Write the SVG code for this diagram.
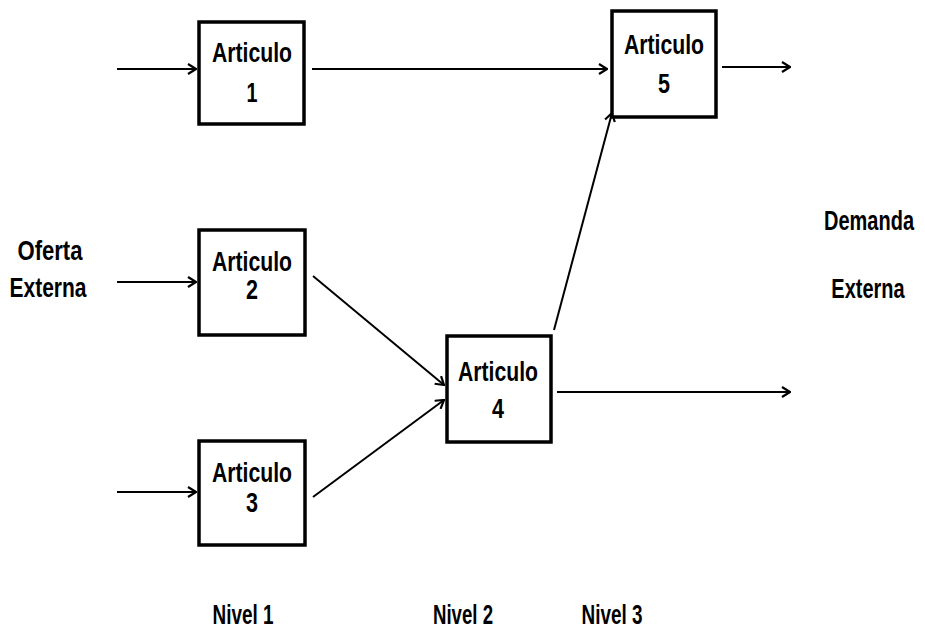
<svg xmlns="http://www.w3.org/2000/svg" width="925" height="633" viewBox="0 0 925 633">
<defs>
<style>
.box{fill:#fff;stroke:#000;stroke-width:3.5}
.ln{fill:none;stroke:#000;stroke-width:2;marker-end:url(#ah)}
.t{font-family:"Liberation Sans",Arial,sans-serif;font-weight:bold;font-size:27px;fill:#000;text-anchor:middle}
.s{font-size:20px}
</style>
<marker id="ah" viewBox="0 0 12 12" refX="11" refY="6" markerWidth="12" markerHeight="12" markerUnits="userSpaceOnUse" orient="auto">
<path d="M3,1 L11,6 L3,11" fill="none" stroke="#000" stroke-width="2.2"/>
</marker>
</defs>
<rect width="925" height="633" fill="#fff"/>
<g id="connectors">
<line class="ln" x1="117" y1="69" x2="196" y2="69"/>
<line class="ln" x1="312" y1="69" x2="607" y2="69"/>
<line class="ln" x1="722" y1="67" x2="790" y2="67"/>
<line class="ln" x1="117" y1="282" x2="196" y2="282"/>
<line class="ln" x1="117" y1="492" x2="196" y2="492"/>
<line class="ln" x1="313" y1="276" x2="444" y2="385"/>
<line class="ln" x1="313" y1="497" x2="444" y2="400"/>
<line class="ln" x1="554" y1="330" x2="612" y2="113"/>
<line class="ln" x1="557" y1="392" x2="790" y2="392"/>
</g>
<g id="n1"><rect class="box" x="199" y="22" width="105" height="102"/>
<text class="t" x="252" y="62" textLength="80" lengthAdjust="spacingAndGlyphs">Articulo</text>
<text class="t" x="252" y="102" textLength="11" lengthAdjust="spacingAndGlyphs">1</text></g>
<g id="n2"><rect class="box" x="199" y="230" width="106" height="105"/>
<text class="t" x="252" y="271" textLength="80" lengthAdjust="spacingAndGlyphs">Articulo</text>
<text class="t" x="252" y="299" textLength="12" lengthAdjust="spacingAndGlyphs">2</text></g>
<g id="n3"><rect class="box" x="199" y="441" width="106" height="104"/>
<text class="t" x="252" y="482" textLength="80" lengthAdjust="spacingAndGlyphs">Articulo</text>
<text class="t" x="252" y="512" textLength="12" lengthAdjust="spacingAndGlyphs">3</text></g>
<g id="n4"><rect class="box" x="447" y="336" width="104" height="106"/>
<text class="t" x="498" y="381" textLength="80" lengthAdjust="spacingAndGlyphs">Articulo</text>
<text class="t" x="498" y="418" textLength="12" lengthAdjust="spacingAndGlyphs">4</text></g>
<g id="n5"><rect class="box" x="612" y="11" width="104" height="106"/>
<text class="t" x="664" y="54" textLength="80" lengthAdjust="spacingAndGlyphs">Articulo</text>
<text class="t" x="664" y="93" textLength="12" lengthAdjust="spacingAndGlyphs">5</text></g>
<g id="labels">
<text class="t" x="50" y="260" textLength="65" lengthAdjust="spacingAndGlyphs">Oferta</text>
<text class="t" x="48" y="297" textLength="77" lengthAdjust="spacingAndGlyphs">Externa</text>
<g transform="translate(869,230) scale(1,1.35)"><text class="t s" x="0" y="0">Demanda</text></g>
<g transform="translate(868,298) scale(1,1.35)"><text class="t s" x="0" y="0">Externa</text></g>
<text class="t" x="243" y="624" textLength="61" lengthAdjust="spacingAndGlyphs">Nivel 1</text>
<text class="t" x="463" y="624" textLength="60" lengthAdjust="spacingAndGlyphs">Nivel 2</text>
<text class="t" x="612" y="624" textLength="61" lengthAdjust="spacingAndGlyphs">Nivel 3</text>
</g>
</svg>
